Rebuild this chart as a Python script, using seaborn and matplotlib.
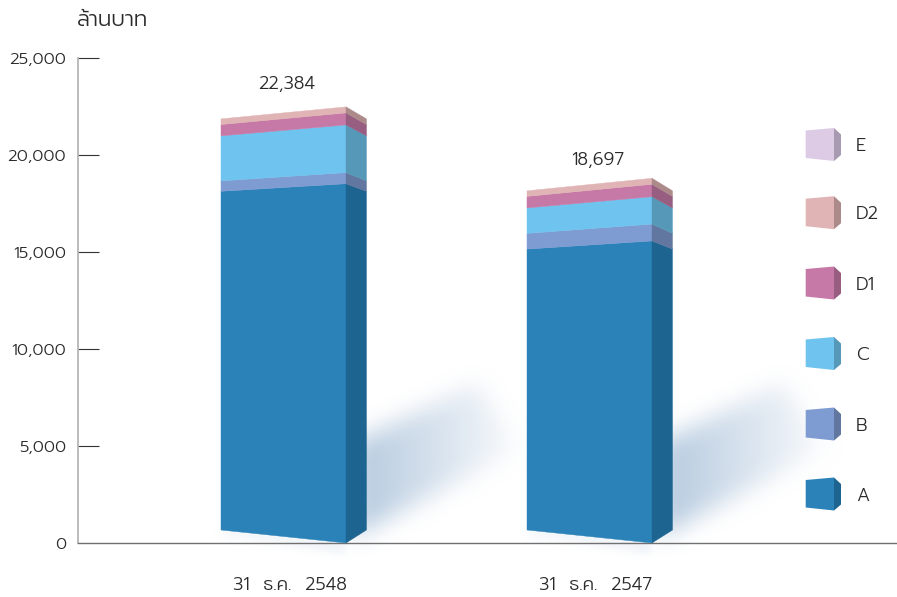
"""
Stacked 3D-look bars, million baht, 31 Dec 2548 vs 2547
"""
import logging
import numpy as np
import pandas as pd
import matplotlib
matplotlib.use('Agg')
import matplotlib.pyplot as plt
import seaborn as sns
from matplotlib.patches import Polygon
from matplotlib.path import Path

logging.getLogger('matplotlib.font_manager').setLevel(logging.ERROR)

# Data
dates = ['31  ธ.ค.  2548', '31  ธ.ค.  2547']
segments = ['A', 'B', 'C', 'D1', 'D2', 'E']
values_2548 = [18520, 570, 2460, 620, 310, 0]
values_2547 = [15570, 870, 1410, 640, 310, 0]
totals = [22384, 18697]
y_ticks = [0, 5000, 10000, 15000, 20000, 25000]

# Colours
front_colors = ['#2B82B8', '#7E9CD2', '#6EC3EF', '#C678A6', '#E0B4B4', '#DDCBE5']
side_colors = ['#1E6490', '#61779F', '#5598B8', '#985E82', '#AD8A8A', '#A89AB0']
TEXT = '#2A2A2A'

# Geometry (the far edge of a bar sits a bit higher and is a bit shorter)
W, H = 897, 597
PX_PER_CAT = 306
BAR_W = 125 / PX_PER_CAT
DEPTH = 20.5 / PX_PER_CAT
LIFT = 670
SCALES = [0.9427, 0.93]


def far(v, scale):
    return LIFT + v * scale


sns.set_style('white')
plt.rcParams['font.family'] = ['Prompt', 'Kanit', 'Anuphan', 'DejaVu Sans']
plt.rcParams['font.weight'] = 300

fig = plt.figure(figsize=(W / 100, H / 100), dpi=100)

# Background layer in pixels: soft shadows and the legend
bg = fig.add_axes([0, 0, 1, 1], zorder=0)
bg.set_xlim(0, W)
bg.set_ylim(H, 0)
bg.axis('off')

xx, yy = np.meshgrid(np.arange(W) + 0.5, np.arange(H) + 0.5)


def soft_mask(points, blur):
    inside = Path(points).contains_points(np.c_[xx.ravel(), yy.ravel()]).reshape(xx.shape).astype(float)
    kernel = np.ones(blur) / blur
    for _ in range(2):
        inside = np.apply_along_axis(lambda r: np.convolve(r, kernel, mode='same'), 0, inside)
        inside = np.apply_along_axis(lambda r: np.convolve(r, kernel, mode='same'), 1, inside)
    return inside


alpha = np.zeros(xx.shape)
for x0 in [367, 673]:
    cast = soft_mask([(x0 - 15, 443), (x0 + 112, 384), (x0 + 158, 447), (x0 - 15, 538)], 27)
    fade = np.clip(1 - 0.9 * (xx - x0) / 150, 0.1, 1)
    alpha = np.maximum(alpha, cast * fade)
    foot = soft_mask([(x0 - 146, 530), (x0 - 21, 543), (x0 - 21, 552), (x0 - 146, 534)], 11)
    alpha = np.maximum(alpha, foot * 0.35)

img = np.zeros(xx.shape + (4,))
img[..., :3] = matplotlib.colors.to_rgb('#BACDE1')
img[..., 3] = alpha
bg.imshow(img, extent=(0, W, H, 0), aspect='auto', zorder=1, interpolation='bilinear')
bg.set_xlim(0, W)
bg.set_ylim(H, 0)

# Main axes
ax = fig.add_axes([78 / W, (H - 543) / H, (W - 78) / W, 485 / H], zorder=1)
ax.patch.set_visible(False)

df = pd.DataFrame({'date': dates})
bottom = np.zeros(2)
for i, seg in enumerate(segments):
    df[seg] = [values_2548[i], values_2547[i]]
    sns.barplot(data=df, x='date', y=seg, bottom=bottom, color=front_colors[i],
                width=BAR_W, saturation=1, errorbar=None, ax=ax)
    bottom = bottom + df[seg].values

# Turn the flat bars into boxes
n = len(dates)
for k, p in enumerate(list(ax.patches)):
    p.set_visible(False)
    if p.get_height() == 0:
        continue
    i = k // n
    scale = SCALES[k % n]
    x0, x1 = p.get_x(), p.get_x() + p.get_width()
    y0, y1 = p.get_y(), p.get_y() + p.get_height()
    ax.add_patch(Polygon([(x0, far(y0, scale)), (x1, y0), (x1, y1), (x0, far(y1, scale))],
                         fc=front_colors[i], ec=front_colors[i], lw=0.3, zorder=3))
    ax.add_patch(Polygon([(x1, y0), (x1 + DEPTH, far(y0, scale)), (x1 + DEPTH, far(y1, scale)), (x1, y1)],
                         fc=side_colors[i], ec=side_colors[i], lw=0.3, zorder=3))

for i, total in enumerate(totals):
    ax.annotate(f'{total:,}', (i + [0.01, 0.025][i], total), xytext=(0, [17.3, 14.3][i]),
                textcoords='offset points', ha='center', va='center',
                fontsize=13, color=TEXT)

ax.set_xlim(-205.5 / PX_PER_CAT, 613.5 / PX_PER_CAT)
ax.set_ylim(0, 25000)
ax.set_yticks(y_ticks)
ax.set_yticklabels([f'{t:,}' for t in y_ticks], fontsize=12, color=TEXT)
ax.set_xticks([0.02, 1.02])
ax.set_xticklabels(dates, fontsize=13, color=TEXT)
ax.set_xlabel('')
ax.set_ylabel('')
ax.tick_params(axis='x', length=0, pad=24)
ax.tick_params(axis='y', direction='in', length=15, width=0.8, color='#333333', pad=8.5, left=True)
ax.yaxis.get_major_ticks()[0].tick1line.set_visible(False)
sns.despine(ax=ax)
ax.spines['left'].set_color('#B0B0B0')
ax.spines['left'].set_linewidth(1.2)
ax.spines['bottom'].set_color('#707070')
ax.spines['bottom'].set_linewidth(1.0)

fig.text(77 / W, 1 - 20 / H, 'ล้านบาท', fontsize=15.5, color=TEXT, va='center', ha='left')

# Legend cubes, top to bottom
legend_y = [494, 424, 353.5, 283, 212.7, 144.5]
for i, seg in enumerate(segments):
    cy = legend_y[i]
    bg.add_patch(Polygon([(805.7, cy - 14), (834, cy - 16.5), (834, cy + 16.5), (805.7, cy + 13.5)],
                         fc=front_colors[i], ec='none', zorder=3))
    bg.add_patch(Polygon([(834, cy - 16.5), (841, cy - 10), (841, cy + 10.5), (834, cy + 16.5)],
                         fc=side_colors[i], ec='none', zorder=3))
    bg.text(856, cy + 2, seg, fontsize=13, color=TEXT, va='center', ha='left')

plt.savefig('out.png', dpi=100)
plt.close()
